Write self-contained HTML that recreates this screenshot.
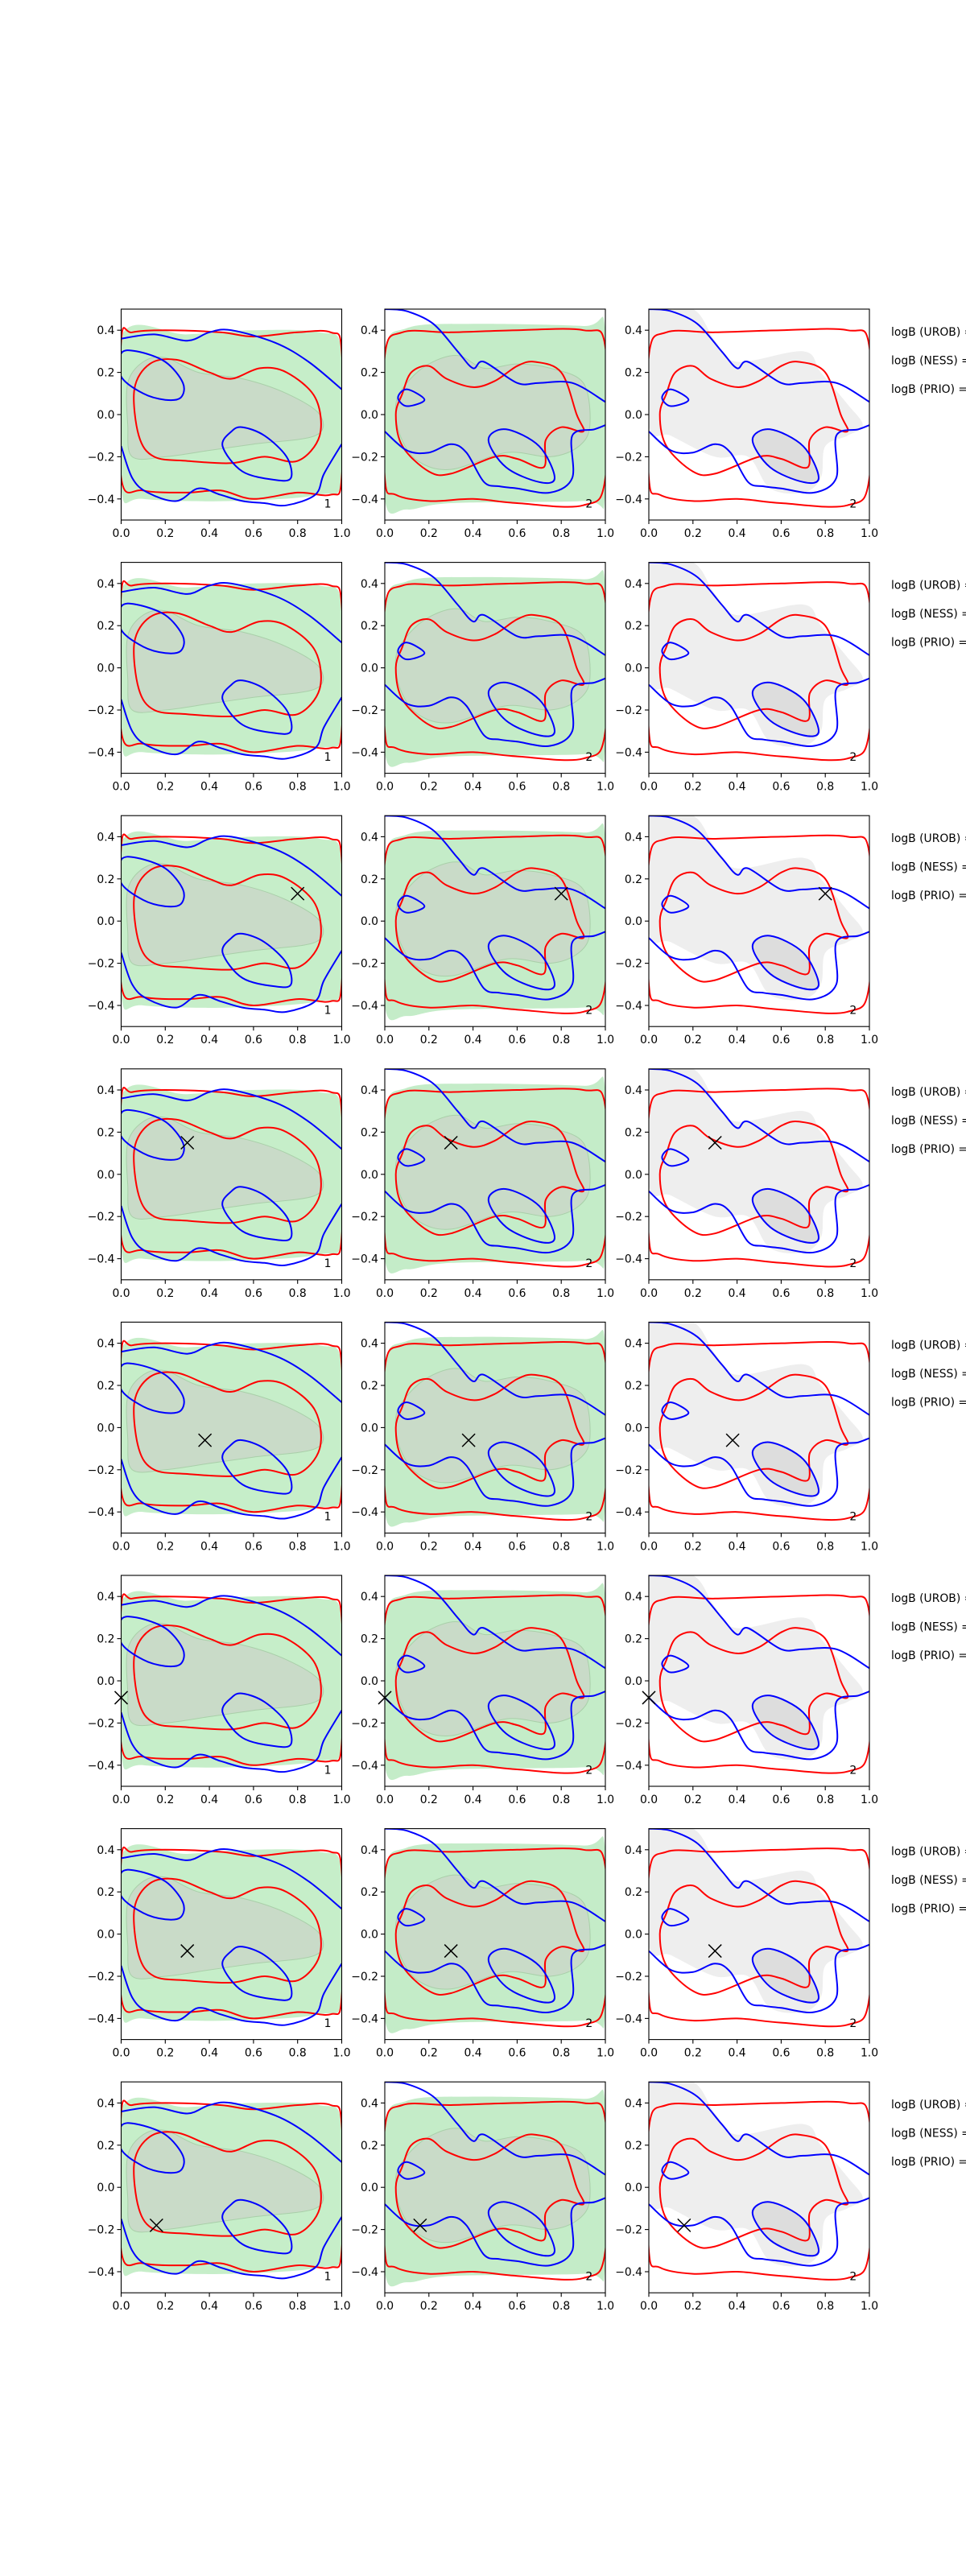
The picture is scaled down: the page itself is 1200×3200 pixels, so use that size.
<!DOCTYPE html>
<html><head><meta charset="utf-8"><style>
html,body{margin:0;padding:0;background:#fff;}
svg{display:block;}
text{font-family:"DejaVu Sans","Liberation Sans",sans-serif;font-size:13.9px;fill:#000;}
</style></head><body>
<svg id="fig" width="1200" height="3200" viewBox="0 0 1200 3200" xmlns="http://www.w3.org/2000/svg"></svg>
<script>
// ---- data ----
const xTicks = [0, 0.2, 0.4, 0.6, 0.8, 1.0];
const yTicks = [-0.4, -0.2, 0.0, 0.2, 0.4];
const legendLabels = ["logB (UROB) =", "logB (NESS) =", "logB (PRIO) ="];
const panelNumbers = ["1", "2", "2"];
const markerX = [null, null, 0.8, 0.3, 0.38, 0.0, 0.3, 0.16];
const markerY = [null, null, 0.13, 0.15, -0.06, -0.08, -0.08, -0.18];

// column 1 contours
const c1Green = [[0,0.37],[0.3,0.38],[0.6,0.4],[0.9,0.39],[1,0.3],[1,-0.3],[0.9,-0.38],[0.5,-0.41],[0.1,-0.4],[0,-0.35]];
const c1Gray = [[0.03,0.15],[0.1,0.25],[0.2,0.27],[0.35,0.2],[0.55,0.17],[0.75,0.1],[0.9,0.0],[0.88,-0.1],[0.6,-0.14],[0.4,-0.17],[0.2,-0.2],[0.05,-0.2],[0.03,-0.05]];
const c1RedOuter = [[0,0.35],[0.05,0.39],[0.2,0.4],[0.45,0.39],[0.6,0.37],[0.8,0.39],[0.95,0.39],[1,0.3],[1,-0.3],[0.95,-0.38],[0.8,-0.37],[0.6,-0.4],[0.45,-0.36],[0.3,-0.37],[0.1,-0.36],[0,-0.3]];
const c1RedInner = [[0.06,0.12],[0.13,0.24],[0.25,0.26],[0.4,0.2],[0.5,0.17],[0.63,0.22],[0.75,0.2],[0.88,0.08],[0.9,-0.1],[0.8,-0.22],[0.65,-0.2],[0.5,-0.23],[0.3,-0.22],[0.15,-0.2],[0.08,-0.1]];
const c1BlueLoop = [[0,0.29],[0.07,0.3],[0.2,0.25],[0.28,0.15],[0.27,0.08],[0.2,0.07],[0.1,0.1],[0,0.18]];
const c1BlueEllipse = [[0.55,-0.06],[0.65,-0.1],[0.75,-0.2],[0.77,-0.3],[0.7,-0.31],[0.55,-0.27],[0.46,-0.15],[0.5,-0.08]];
const c1BlueTop = [[0,0.36],[0.15,0.38],[0.3,0.35],[0.4,0.39],[0.5,0.4],[0.7,0.34],[0.85,0.25],[1,0.12]];
const c1BlueBottom = [[0,-0.15],[0.05,-0.3],[0.12,-0.37],[0.25,-0.41],[0.35,-0.35],[0.45,-0.38],[0.55,-0.41],[0.65,-0.42],[0.75,-0.43],[0.88,-0.38],[0.92,-0.28],[1,-0.14]];

// column 2 & 3 contours
const c2Green = [[0,0.28],[0.1,0.41],[0.4,0.43],[0.9,0.42],[1,0.4],[1,-0.38],[0.9,-0.41],[0.3,-0.42],[0.1,-0.45],[0,-0.4]];
const c2Gray = [[0.1,0.15],[0.2,0.24],[0.33,0.28],[0.45,0.22],[0.6,0.24],[0.75,0.22],[0.9,0.15],[0.93,-0.05],[0.88,-0.15],[0.75,-0.2],[0.55,-0.18],[0.3,-0.26],[0.15,-0.22],[0.07,-0.1],[0.05,0.05]];
const c2RedOuter = [[0,0.28],[0.08,0.39],[0.3,0.39],[0.6,0.4],[0.9,0.4],[1,0.32],[1,-0.3],[0.9,-0.43],[0.6,-0.42],[0.4,-0.4],[0.2,-0.41],[0.05,-0.38],[0,-0.3]];
const c2RedInner = [[0.08,0.1],[0.12,0.2],[0.2,0.23],[0.28,0.17],[0.4,0.13],[0.5,0.16],[0.6,0.23],[0.68,0.25],[0.8,0.2],[0.87,0.0],[0.9,-0.08],[0.8,-0.06],[0.73,-0.12],[0.72,-0.25],[0.6,-0.21],[0.5,-0.2],[0.3,-0.28],[0.2,-0.27],[0.08,-0.15],[0.05,0.0]];
const c2BlueTop = [[0,0.5],[0.1,0.49],[0.22,0.43],[0.33,0.3],[0.4,0.22],[0.45,0.25],[0.6,0.15],[0.7,0.15],[0.85,0.15],[1,0.06]];
const c2BlueLoop = [[0.1,0.12],[0.18,0.07],[0.1,0.04],[0.06,0.08]];
const c2BlueBottom = [[0,-0.08],[0.1,-0.17],[0.2,-0.18],[0.3,-0.14],[0.37,-0.18],[0.45,-0.32],[0.52,-0.34],[0.6,-0.35],[0.75,-0.37],[0.85,-0.3],[0.85,-0.1],[0.95,-0.07],[1,-0.05]];
const c2BlueEllipse = [[0.55,-0.07],[0.7,-0.15],[0.77,-0.3],[0.7,-0.32],[0.55,-0.25],[0.47,-0.12]];
const c3Gray = [[0,0.5],[0.2,0.5],[0.3,0.35],[0.4,0.25],[0.7,0.3],[0.78,0.2],[0.9,0.05],[0.97,-0.05],[0.9,-0.1],[0.8,-0.15],[0.78,-0.3],[0.7,-0.37],[0.55,-0.35],[0.45,-0.2],[0.3,-0.2],[0.1,-0.1],[0,-0.05]];

// ---- layout ----
const NS = "http://www.w3.org/2000/svg";
const svg = document.getElementById('fig');
const colLeft = [150.5, 478, 806];
const AW = 274, AH = 262, top0 = 384, rowStep = 314.6;

function mk(tag, attrs, parent){
  const e = document.createElementNS(NS, tag);
  for (const k in attrs) e.setAttribute(k, attrs[k]);
  (parent||svg).appendChild(e);
  return e;
}
function smoothPath(pts, sx, sy, closed){
  const P = pts.map(p=>[sx(p[0]), sy(p[1])]);
  const n = P.length;
  let d = "M"+P[0][0].toFixed(1)+","+P[0][1].toFixed(1);
  const segs = closed ? n : n-1;
  for (let i=0;i<segs;i++){
    const p0 = P[closed?(i-1+n)%n:Math.max(i-1,0)];
    const p1 = P[i], p2 = P[(i+1)%n];
    const p3 = P[closed?(i+2)%n:Math.min(i+2,n-1)];
    const c1 = [p1[0]+(p2[0]-p0[0])/6, p1[1]+(p2[1]-p0[1])/6];
    const c2 = [p2[0]-(p3[0]-p1[0])/6, p2[1]-(p3[1]-p1[1])/6];
    d += "C"+c1[0].toFixed(1)+","+c1[1].toFixed(1)+" "+c2[0].toFixed(1)+","+c2[1].toFixed(1)+" "+p2[0].toFixed(1)+","+p2[1].toFixed(1);
  }
  if (closed) d += "Z";
  return d;
}
function fmt(v){ const s = v.toFixed(1); return s.replace('-', '\u2212'); }

let clipId = 0;
for (let r=0;r<8;r++){
  const top = top0 + r*rowStep;
  for (let c=0;c<3;c++){
    const L = colLeft[c];
    const sx = v => L + v*AW;
    const sy = v => top + (0.5 - v)*AH;
    const g = mk('g', {});
    
    
    const cid = 'clip'+(clipId++);
    const cp = mk('clipPath', {id:cid}, g);
    mk('rect', {x:L, y:top, width:AW, height:AH}, cp);
    const plot = mk('g', {'clip-path':'url(#'+cid+')'}, g);
    function shape(pts, closed, attrs, name){
      const p = mk('path', Object.assign({d: smoothPath(pts, sx, sy, closed)}, attrs), plot);
      
      
    }
    const red = {fill:'none', stroke:'#ff0000', 'stroke-width':2};
    const blue = {fill:'none', stroke:'#0000ff', 'stroke-width':2};
    if (c===0){
      shape(c1Green, true, {fill:'#c6eec9'}, 'green-region');
      shape(c1Gray, true, {fill:'#c9dbc8', stroke:'#a9cfa9', 'stroke-width':1}, 'gray-region');
      shape(c1RedOuter, true, red, 'red-outer-contour');
      shape(c1RedInner, true, red, 'red-inner-contour');
      shape(c1BlueLoop, true, blue, 'blue-loop');
      shape(c1BlueEllipse, true, blue, 'blue-ellipse');
      shape(c1BlueTop, false, blue, 'blue-top-contour');
      shape(c1BlueBottom, false, blue, 'blue-bottom-contour');
    } else {
      if (c===1){
        shape(c2Green, true, {fill:'#c4ecc8'}, 'green-region');
        shape(c2Gray, true, {fill:'#c9dbc8', stroke:'#a9cfa9', 'stroke-width':1}, 'gray-region');
      } else {
        shape(c3Gray, true, {fill:'#eeeeee'}, 'gray-region');
        shape(c2BlueEllipse, true, {fill:'#dddddd'}, 'dark-gray-region');
      }
      shape(c2RedOuter, true, red, 'red-outer-contour');
      shape(c2RedInner, true, red, 'red-inner-contour');
      shape(c2BlueTop, false, blue, 'blue-top-contour');
      shape(c2BlueLoop, true, blue, 'blue-loop');
      shape(c2BlueBottom, false, blue, 'blue-bottom-contour');
      shape(c2BlueEllipse, true, blue, 'blue-ellipse');
    }
    if (markerX[r] !== null){
      const mx = sx(markerX[r]), my = sy(markerY[r]);
      const m = mk('path', {d:`M${mx-8},${my-8}L${mx+8},${my+8}M${mx-8},${my+8}L${mx+8},${my-8}`, stroke:'#000', 'stroke-width':1.5, fill:'none'}, g);
      
      
    }
    const num = mk('text', {x: sx(c===0?0.92:0.91), y: sy(-0.44)}, g);
    num.textContent = panelNumbers[c];
    
    
    const fr = mk('rect', {x:L, y:top, width:AW, height:AH, fill:'none', stroke:'#000', 'stroke-width':1.1}, g);
    
    
    xTicks.forEach(v=>{
      const x = sx(v);
      mk('line', {x1:x, x2:x, y1:top+AH, y2:top+AH+5, stroke:'#000', 'stroke-width':1.1}, g);
      const t = mk('text', {x:x, y:top+AH+21, 'text-anchor':'middle'}, g);
      t.textContent = fmt(v);
      
      
    });
    yTicks.forEach(v=>{
      const y = sy(v);
      mk('line', {x1:L-5, x2:L, y1:y, y2:y, stroke:'#000', 'stroke-width':1.1}, g);
      const t = mk('text', {x:L-8, y:y+5, 'text-anchor':'end'}, g);
      t.textContent = fmt(v);
      
      
    });
  }
  legendLabels.forEach((s,i)=>{
    const t = mk('text', {x:1107, y: top + 33 + i*35.5});
    t.textContent = s;
    
    
  });
}
</script>
</body></html>
